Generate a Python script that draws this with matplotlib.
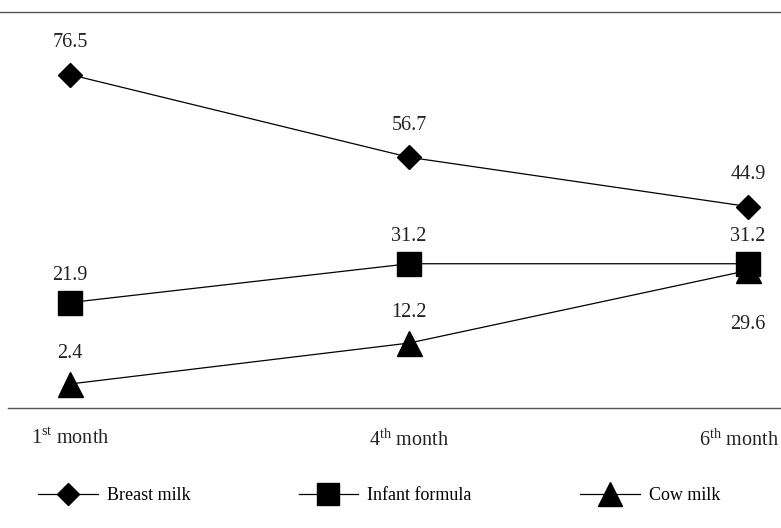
import matplotlib.pyplot as plt
from matplotlib.lines import Line2D
from matplotlib.transforms import ScaledTranslation

plt.rcParams['font.family'] = ['Liberation Serif', 'DejaVu Serif']
plt.rcParams['mathtext.fontset'] = 'custom'
plt.rcParams['mathtext.rm'] = 'Liberation Serif'

months = ['1$^{\\mathrm{st}}$ month', '4$^{\\mathrm{th}}$ month', '6$^{\\mathrm{th}}$ month']
breast_milk = [76.5, 56.7, 44.9]
infant_formula = [21.9, 31.2, 31.2]
cow_milk = [2.4, 12.2, 29.6]

fig = plt.figure(figsize=(7.81, 5.28), dpi=100)
ax = fig.add_axes([0.0102, 0.2273, 0.9898, 0.75])

x = range(len(months))
ax.plot(x, breast_milk, color='black', lw=0.9, marker='D', ms=12, label='Breast milk')
ax.plot(x, infant_formula, color='black', lw=0.9, marker='s', ms=17, label='Infant formula')
ax.plot(x, cow_milk, color='black', lw=0.9, marker='^', ms=18, label='Cow milk')

fs = 14.5
for i in x:
    ax.annotate(f'{breast_milk[i]}', (i, breast_milk[i]), xytext=(0, 16), textcoords='offset points',
                ha='center', va='bottom', fontsize=fs, color='#222222')
    ax.annotate(f'{infant_formula[i]}', (i, infant_formula[i]), xytext=(0, 13), textcoords='offset points',
                ha='center', va='bottom', fontsize=fs, color='#222222')
    # last cow milk label sits below the marker
    if i == 2:
        ax.annotate(f'{cow_milk[i]}', (i, cow_milk[i]), xytext=(0, -32), textcoords='offset points',
                    ha='center', va='top', fontsize=fs, color='#222222')
    else:
        ax.annotate(f'{cow_milk[i]}', (i, cow_milk[i]), xytext=(0, 15), textcoords='offset points',
                    ha='center', va='bottom', fontsize=fs, color='#222222')

ax.set_xlim(-0.183, 2.097)
ax.set_ylim(-3.35, 91.5)
ax.set_xticks(list(x))
ax.set_xticklabels(months, fontsize=fs, color='#222222')
ax.tick_params(axis='x', length=0, pad=15)
last = ax.get_xticklabels()[-1]
last.set_ha('right')
last.set_transform(last.get_transform() + ScaledTranslation(0.31, 0, fig.dpi_scale_trans))
ax.set_yticks([])
for s in ['left', 'right', 'top']:
    ax.spines[s].set_visible(False)
ax.spines['bottom'].set_color('#555555')
ax.spines['bottom'].set_linewidth(1.0)

# top rule across the whole figure
fig.add_artist(Line2D([0, 1], [0.977, 0.977], color='#555555', lw=1.0, transform=fig.transFigure))

fig.legend(loc='lower left', bbox_to_anchor=(0.028, 0.015), ncol=3, frameon=False, fontsize=13,
           handlelength=3.3, handletextpad=0.5, columnspacing=6.0, markerscale=0.95)

fig.savefig('out.png', dpi=100)
